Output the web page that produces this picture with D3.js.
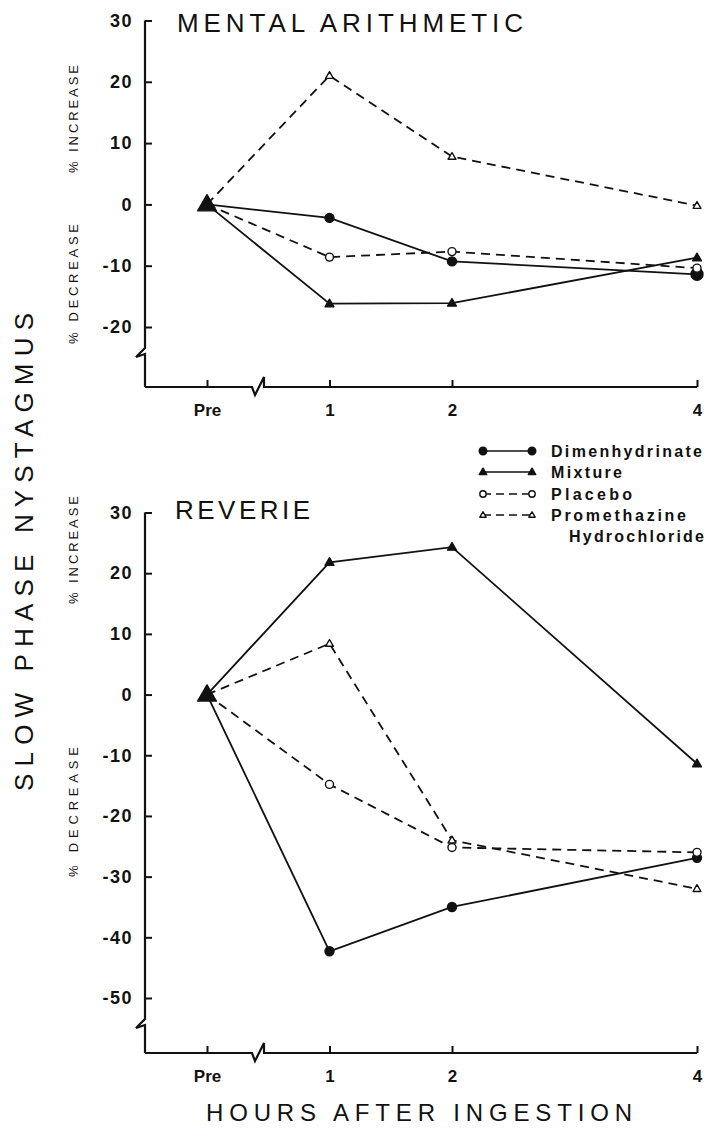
<!DOCTYPE html>
<html>
<head>
<meta charset="utf-8">
<script src="https://cdn.jsdelivr.net/npm/d3@7"></script>
<style>
  body { margin: 0; background: #fff; }
  svg { display: block; }
  text { font-family: "Liberation Sans", Arial, sans-serif; fill: #111; }
</style>
</head>
<body>
<svg id="chart" width="708" height="1137"></svg>
<script>
// Hours after ingestion (Pre is plotted at hour 0)
const hours = [0, 1, 2, 4];
const hourLabels = ["Pre", "1", "2", "4"];
const seriesNames = ["Dimenhydrinate", "Mixture", "Placebo", "Promethazine"];

// % change in slow phase nystagmus, mental arithmetic
const arithDimen = [0, -2.2, -9.3, -11.4];
const arithMixture = [0, -16.2, -16.1, -8.7];
const arithPlacebo = [0, -8.6, -7.7, -10.4];
const arithPrometh = [0, 21, 7.8, -0.2];

// % change, reverie
const revDimen = [0, -42.3, -35, -26.9];
const revMixture = [0, 21.8, 24.3, -11.4];
const revPlacebo = [0, -14.8, -25.2, -26];
const revPrometh = [0, 8.4, -24, -32];

const arithTicks = [30, 20, 10, 0, -10, -20];
const revTicks = [30, 20, 10, 0, -10, -20, -30, -40, -50];

const svg = d3.select("#chart");
const ink = "#111";

// shared x scale
const x = d3.scaleLinear().domain([0, 4]).range([207, 697]);
const axisX = 145;

// marker style for each series
const styles = {
  Dimenhydrinate: { dash: null, shape: "circle", fill: ink },
  Mixture: { dash: null, shape: "triangle", fill: ink },
  Placebo: { dash: "9,6", shape: "circle", fill: "#fff" },
  Promethazine: { dash: "9,6", shape: "triangle", fill: "#fff" }
};

function drawMarker(g, shape, fill, cx, cy, s) {
  if (shape === "circle") {
    g.append("circle").attr("cx", cx).attr("cy", cy).attr("r", s)
      .attr("fill", fill).attr("stroke", ink).attr("stroke-width", 1.4);
  } else {
    const h = s * 1.7;
    g.append("path")
      .attr("d", `M${cx},${cy - h * 0.6} L${cx + h * 0.58},${cy + h * 0.4} L${cx - h * 0.58},${cy + h * 0.4} Z`)
      .attr("fill", fill).attr("stroke", ink).attr("stroke-width", 1.4)
      .attr("stroke-linejoin", "round");
  }
}

function drawPanel(opt) {
  const g = svg.append("g");
  const y = d3.scaleLinear().domain(opt.domain).range(opt.range);

  // y axis with inward ticks
  const yAxis = d3.axisLeft(y).tickValues(opt.ticks).tickSize(-7).tickPadding(12)
    .tickFormat(d => d < 0 ? "-" + Math.abs(d) : String(d));
  const ya = g.append("g").attr("transform", `translate(${axisX},0)`).call(yAxis);
  ya.select(".domain").remove();
  ya.selectAll("line").attr("stroke", ink).attr("stroke-width", 2);
  ya.selectAll("text").attr("font-size", 18).attr("font-weight", "bold")
    .attr("letter-spacing", 1.5).attr("fill", ink);

  // y axis line with a break near the bottom
  const yTop = y(opt.domain[1]);
  const yb = opt.breakY;
  g.append("path")
    .attr("d", `M${axisX},${yTop} L${axisX},${yb - 4} L${axisX - 9},${yb + 5} L${axisX},${yb + 2} L${axisX},${opt.baseY}`)
    .attr("fill", "none").attr("stroke", ink).attr("stroke-width", 2.2);

  // x axis with break between Pre and 1
  const xAxis = d3.axisBottom(x).tickValues(hours).tickSize(-7).tickPadding(17)
    .tickFormat((d, i) => hourLabels[i]);
  const xa = g.append("g").attr("transform", `translate(0,${opt.baseY})`).call(xAxis);
  xa.select(".domain").remove();
  xa.selectAll("line").attr("stroke", ink).attr("stroke-width", 2);
  xa.selectAll("text").attr("font-size", 17).attr("font-weight", "bold").attr("fill", ink);
  const bx = opt.breakX;
  g.append("path")
    .attr("d", `M${axisX},${opt.baseY} L${bx - 6},${opt.baseY} L${bx - 3},${opt.baseY + 8} L${bx + 6},${opt.baseY - 10} L${bx + 6},${opt.baseY} L${x(4)},${opt.baseY}`)
    .attr("fill", "none").attr("stroke", ink).attr("stroke-width", 2.2);

  // series lines
  const line = d3.line().x((d, i) => x(hours[i])).y(d => y(d));
  seriesNames.forEach((name, k) => {
    const st = styles[name];
    g.append("path").datum(opt.data[k])
      .attr("d", line).attr("fill", "none").attr("stroke", ink)
      .attr("stroke-width", 1.8).attr("stroke-dasharray", st.dash);
  });
  seriesNames.forEach((name, k) => {
    const st = styles[name];
    opt.data[k].forEach((v, i) => {
      if (i === 0) return;
      const big = (opt.bigLast && name === "Dimenhydrinate" && i === 3);
      drawMarker(g, st.shape, st.fill, x(hours[i]), y(v), big ? 6 : (st.fill === ink ? 4.5 : 4));
    });
  });
  // common starting point
  drawMarker(g, "triangle", ink, x(0), y(0), 9.5);

  // panel title
  g.append("text").attr("x", opt.titleX).attr("y", opt.titleY)
    .attr("font-size", 26).attr("textLength", opt.titleLen).attr("lengthAdjust", "spacing")
    .text(opt.title);

  const lab = (txt, cy, len) => g.append("text")
    .attr("transform", `translate(78,${cy}) rotate(-90)`)
    .attr("text-anchor", "middle").attr("font-size", 13)
    .attr("textLength", len).attr("lengthAdjust", "spacing")
    .text(txt);
  lab("% INCREASE", opt.inc[0], opt.inc[1]);
  lab("% DECREASE", opt.dec[0], opt.dec[1]);
}

drawPanel({
  title: "MENTAL ARITHMETIC", titleX: 177, titleY: 32, titleLen: 346,
  domain: [-20, 30], range: [327, 20.5], ticks: arithTicks,
  breakY: 352, baseY: 387, breakX: 258,
  data: [arithDimen, arithMixture, arithPlacebo, arithPrometh],
  inc: [119, 108], dec: [284, 120], bigLast: true
});

drawPanel({
  title: "REVERIE", titleX: 175, titleY: 519, titleLen: 135,
  domain: [-50, 30], range: [998, 512.5], ticks: revTicks,
  breakY: 1023, baseY: 1053, breakX: 258,
  data: [revDimen, revMixture, revPlacebo, revPrometh],
  inc: [550, 108], dec: [812, 130], bigLast: false
});

// legend
const legY = [451, 472, 494, 515];
const legLen = [151, 71, 81, 135];
const leg = svg.append("g");
seriesNames.forEach((name, k) => {
  const st = styles[name];
  leg.append("line").attr("x1", 483).attr("x2", 532)
    .attr("y1", legY[k]).attr("y2", legY[k])
    .attr("stroke", ink).attr("stroke-width", 1.5)
    .attr("stroke-dasharray", st.dash ? "8,5" : null);
  drawMarker(leg, st.shape, st.fill, 483, legY[k], st.fill === ink ? 3.8 : 3.2);
  drawMarker(leg, st.shape, st.fill, 532, legY[k], st.fill === ink ? 3.8 : 3.2);
  leg.append("text").attr("x", 551).attr("y", legY[k] + 6)
    .attr("font-size", 16).attr("font-weight", "bold")
    .attr("textLength", legLen[k]).attr("lengthAdjust", "spacing").text(name);
});
leg.append("text").attr("x", 569).attr("y", 542)
  .attr("font-size", 16).attr("font-weight", "bold")
  .attr("textLength", 135).attr("lengthAdjust", "spacing").text("Hydrochloride");

// shared axis titles
svg.append("text")
  .attr("transform", "translate(33,552) rotate(-90)")
  .attr("text-anchor", "middle").attr("font-size", 26)
  .attr("textLength", 478).attr("lengthAdjust", "spacing")
  .text("SLOW  PHASE  NYSTAGMUS");

svg.append("text")
  .attr("x", 419).attr("y", 1121)
  .attr("text-anchor", "middle").attr("font-size", 24)
  .attr("textLength", 426).attr("lengthAdjust", "spacing")
  .text("HOURS  AFTER  INGESTION");
</script>
</body>
</html>
